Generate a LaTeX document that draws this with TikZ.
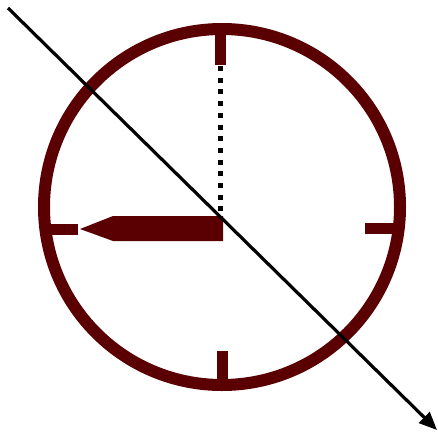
\documentclass[tikz,border=0pt]{standalone}
\usepackage{tikz}
\usetikzlibrary{arrows.meta,calc}
\usepackage{xcolor}
\definecolor{maroon}{RGB}{90,0,2}

\begin{document}
\begin{tikzpicture}[x=1pt,y=-1pt,
  rim/.style={draw=maroon,line width=12pt},
  tick/.style={draw=maroon,line width=11.5pt},
  ray/.style={black,line width=3.2pt,-{Triangle[length=18pt,width=15pt]}}]
 \useasboundingbox (0,0) rectangle (438,437);
 % dial
 \coordinate (centre) at (222,207);
 \draw[rim] (centre) circle (178);
 \draw[tick] (220.5,30) -- (220.5,65);  \draw[tick] (222.5,384) -- (222.5,351);
 \draw[tick] (44,229.5) -- (78,229.5);  \draw[tick] (400,228.5) -- (365,228.5);
 % hands
 \fill[maroon] (223,216) -- (113,216) -- (80,229) -- (113,241) -- (223,241) -- cycle;
 \draw[line width=5pt,dash pattern=on 5pt off 6.7pt] (220,66) -- (220,212);
 % arrow
 \coordinate (from) at (8,8); \coordinate (to) at (437,430);
 \draw[ray] (from) -- (to);
\end{tikzpicture}
\end{document}
